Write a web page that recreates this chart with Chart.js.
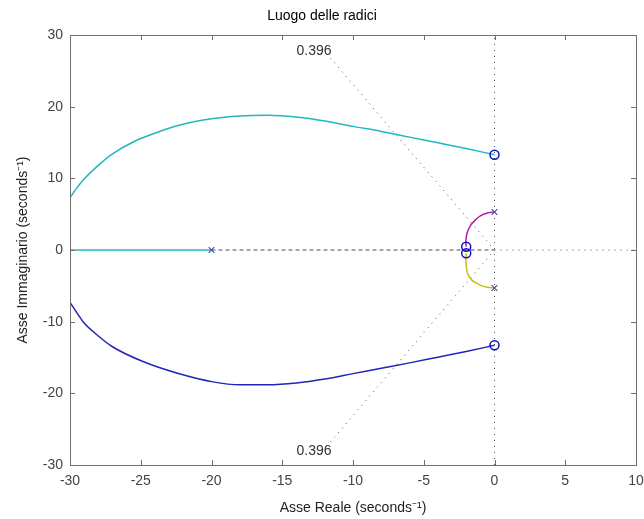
<!DOCTYPE html>
<html>
<head>
<meta charset="utf-8">
<script src="https://cdn.jsdelivr.net/npm/chart.js@4/dist/chart.umd.min.js"></script>
<style>
  body { margin: 0; background: #fff; }
  #wrap { width: 644px; height: 519px; }
</style>
</head>
<body>
<div id="wrap"><canvas id="rlocus" width="644" height="519"></canvas></div>
<script>
// axis ticks
const xTicks = [-30, -25, -20, -15, -10, -5, 0, 5, 10];
const yTicks = [-30, -20, -10, 0, 10, 20, 30];

// branches of the locus
const upperX = [-30, -29.5, -29, -28, -27, -25.5, -24, -22.5, -20, -18, -16, -14, -12, -10, -8, -6, -4, -2, 0];
const upperY = [7.3, 8.7, 9.9, 11.8, 13.4, 15.1, 16.3, 17.3, 18.3, 18.7, 18.8, 18.55, 18.0, 17.25, 16.55, 15.75, 14.95, 14.15, 13.3];
const lowerX = [-30, -29.5, -29, -28, -27, -24.8, -22.4, -19.9, -18, -16, -14, -12, -10, -8, -6, -4, -2, 0];
const lowerY = [-7.3, -8.8, -10.2, -12.0, -13.5, -15.6, -17.2, -18.4, -18.8, -18.8, -18.55, -18.0, -17.25, -16.5, -15.75, -14.95, -14.15, -13.3];
const realX = [-30, -20];
const realY = [0, 0];
const magX = [0, -0.5, -1.0, -1.4, -1.7, -1.9, -2.0, -2.02, -2];
const magY = [5.3, 5.15, 4.75, 4.1, 3.4, 2.6, 1.8, 1.0, 0.45];
const yelX = [0, -0.5, -0.9, -1.3, -1.6, -1.85, -1.97, -2.02, -2];
const yelY = [-5.3, -5.2, -5.0, -4.6, -4.2, -3.5, -2.7, -1.5, -0.45];

// poles and zeros
const poleX = [-20, 0, 0];
const poleY = [0, 5.3, -5.3];
const zeroX = [0, 0, -2, -2];
const zeroY = [13.3, -13.3, 0.45, -0.45];

// sgrid damping lines and label
const zeta = 0.396;
const dampLineX = [-11.6, 0];
const dampLineY = [26.8, 0];
const dampLabelX = -12.75;
const dampLabelY = [27.7, -28.05];

const pts = (xs, ys) => xs.map((x, i) => ({ x: x, y: ys[i] }));

const gridColor = "#505050";
const line = (data, color, extra) => Object.assign({
    data: data,
    showLine: true,
    borderColor: color,
    borderWidth: 1.5,
    pointRadius: 0,
    tension: 0,
    fill: false
}, extra || {});

// box with inward ticks + damping labels
const boxPlugin = {
    id: "box",
    afterDatasetsDraw(chart) {
        const { ctx, chartArea: a, scales: { x, y } } = chart;
        ctx.save();
        ctx.strokeStyle = "#707070";
        ctx.lineWidth = 1;
        ctx.strokeRect(a.left + 0.5, a.top + 0.5, a.right - a.left, a.bottom - a.top);
        const len = 5;
        ctx.beginPath();
        xTicks.forEach(v => {
            const px = Math.round(x.getPixelForValue(v)) + 0.5;
            ctx.moveTo(px, a.bottom); ctx.lineTo(px, a.bottom - len);
            ctx.moveTo(px, a.top); ctx.lineTo(px, a.top + len);
        });
        yTicks.forEach(v => {
            const py = Math.round(y.getPixelForValue(v)) + 0.5;
            ctx.moveTo(a.left, py); ctx.lineTo(a.left + len, py);
            ctx.moveTo(a.right, py); ctx.lineTo(a.right - len, py);
        });
        ctx.stroke();

        ctx.fillStyle = "#333";
        ctx.font = "14px 'Liberation Sans', Arial, sans-serif";
        ctx.textAlign = "center";
        ctx.textBaseline = "middle";
        dampLabelY.forEach(v => {
            ctx.fillText(String(zeta), x.getPixelForValue(dampLabelX), y.getPixelForValue(v));
        });
        ctx.restore();
    }
};

const font14 = { family: "'Liberation Sans', Arial, sans-serif", size: 14 };

new Chart(document.getElementById("rlocus"), {
    type: "scatter",
    data: {
        datasets: [
            {
                data: pts(zeroX, zeroY),
                pointStyle: "circle",
                pointRadius: 4.5,
                pointBorderColor: "#1010c0",
                pointBackgroundColor: "rgba(0,0,0,0)",
                pointBorderWidth: 1.5
            },
            {
                data: pts(poleX, poleY),
                pointStyle: "crossRot",
                pointRadius: 4,
                pointBorderColor: "#4a50a0",
                pointBorderWidth: 1.2
            },
            line(pts(upperX, upperY), "#20b8c0", { cubicInterpolationMode: "monotone" }),
            line(pts(lowerX, lowerY), "#2424b8", { cubicInterpolationMode: "monotone" }),
            line(pts(realX, realY), "#20b8c0"),
            line(pts(magX, magY), "#b020b0", { tension: 0.35 }),
            line(pts(yelX, yelY), "#c8c010", { tension: 0.35 }),
            line(pts([-20, 0], [0, 0]), gridColor, { borderWidth: 1, borderDash: [4, 3] }),
            line(pts([0, 10], [0, 0]), gridColor, { borderWidth: 1, borderDash: [1, 5] }),
            line(pts([0, 0], [-30, 30]), gridColor, { borderWidth: 1, borderDash: [1, 5] }),
            line(pts(dampLineX, dampLineY), gridColor, { borderWidth: 1, borderDash: [1, 5] }),
            line(pts(dampLineX, dampLineY.map(v => -v)), gridColor, { borderWidth: 1, borderDash: [1, 5] })
        ]
    },
    options: {
        responsive: false,
        animation: false,
        layout: { padding: { left: 0, right: 0, top: 0, bottom: 0 } },
        plugins: {
            legend: { display: false },
            tooltip: { enabled: false },
            title: {
                display: true,
                text: "Luogo delle radici",
                color: "#000",
                font: Object.assign({ weight: "normal" }, font14),
                padding: { top: 8, bottom: 10.2 }
            }
        },
        scales: {
            x: {
                type: "linear",
                min: -30,
                max: 10,
                afterBuildTicks: s => { s.ticks = xTicks.map(v => ({ value: v })); },
                afterFit: s => { s.height = 54; s.paddingLeft = 0; s.paddingRight = 8; },
                grid: { display: false, drawTicks: false, tickLength: 0 },
                border: { display: false },
                ticks: { color: "#444", font: font14, padding: 8 },
                title: {
                    display: true,
                    text: "Asse Reale (seconds\u207B\u00B9)",
                    color: "#222",
                    font: font14,
                    padding: { top: 2.6, bottom: 2.6 }
                }
            },
            y: {
                type: "linear",
                min: -30,
                max: 30,
                afterBuildTicks: s => { s.ticks = yTicks.map(v => ({ value: v })); },
                afterFit: s => { s.width = 70; },
                grid: { display: false, drawTicks: false, tickLength: 0 },
                border: { display: false },
                ticks: { color: "#444", font: font14, padding: 7 },
                title: {
                    display: true,
                    text: "Asse Immaginario (seconds\u207B\u00B9)",
                    color: "#222",
                    font: font14,
                    padding: { top: 15, bottom: 15 }
                }
            }
        }
    },
    plugins: [boxPlugin]
});
</script>
</body>
</html>
